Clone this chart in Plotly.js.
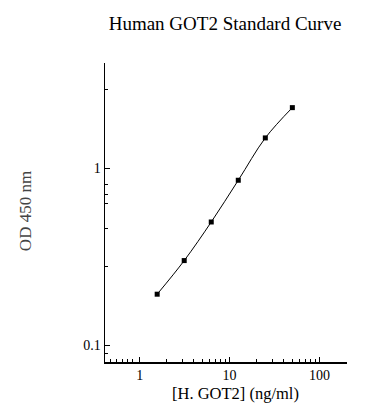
<!DOCTYPE html>
<html>
<head>
<meta charset="utf-8">
<script src="https://cdn.plot.ly/plotly-3.0.1.min.js"></script>
<style>html,body{margin:0;padding:0;background:#fff;}#chart{width:388px;height:420px;}</style>
</head>
<body>
<div id="chart"></div>
<script>
// Data
const concentration = [1.5625, 3.125, 6.25, 12.5, 25, 50];
const od450 = [0.195, 0.302, 0.499, 0.859, 1.49, 2.21];

// Tick values / labels
const xTickVals = [1, 10, 100, 202];
const xTickText = ['1', '10', '100', ''];
const xMinorVals = [0.418, 0.475, 0.55, 0.635, 0.73, 0.83, 2, 3, 4, 5, 6, 7, 8, 9, 20, 30, 40, 50, 60, 70, 80, 90];
const yTickVals = [0.1, 1];
const yTickText = ['0.1', '1'];
const yMinorVals = [0.0905, 0.281, 0.458, 0.634, 0.718, 0.815, 2.79];

const titleText = 'Human GOT2 Standard Curve';
const xTitleText = '[H. GOT2] (ng/ml)';
const yTitleText = 'OD 450 nm';

const serif = '"Liberation Serif", "Times New Roman", serif';

const trace = {
  x: concentration,
  y: od450,
  mode: 'lines+markers',
  type: 'scatter',
  line: {color: '#000', width: 1, shape: 'spline', smoothing: 1},
  marker: {symbol: 'square', size: 5, color: '#000'},
  hoverinfo: 'none'
};

const layout = {
  width: 388,
  height: 420,
  margin: {l: 105, r: 41, t: 63, b: 58},
  paper_bgcolor: '#fff',
  plot_bgcolor: '#fff',
  showlegend: false,
  font: {family: serif, color: '#000', size: 14},
  title: {
    text: titleText,
    font: {family: serif, size: 19, color: '#000'},
    x: 0.58, xanchor: 'center',
    y: 0.945, yanchor: 'middle'
  },
  xaxis: {
    type: 'log',
    range: [Math.log10(0.41), Math.log10(203)],
    tickmode: 'array',
    tickvals: xTickVals,
    ticktext: xTickText,
    ticks: 'inside',
    ticklen: 5,
    tickwidth: 1,
    tickcolor: '#000',
    minor: {tickmode: 'array', tickvals: xMinorVals, ticks: 'inside', ticklen: 3, tickwidth: 1, tickcolor: '#000', showgrid: false},
    showline: true,
    linecolor: '#000',
    linewidth: 1.5,
    showgrid: false,
    zeroline: false,
    tickfont: {family: serif, size: 14, color: '#000'},
    title: {text: ''}
  },
  yaxis: {
    type: 'log',
    range: [Math.log10(0.0807), Math.log10(3.95)],
    tickmode: 'array',
    tickvals: yTickVals,
    ticktext: yTickText,
    ticks: 'inside',
    ticklen: 5,
    tickwidth: 1,
    tickcolor: '#000',
    minor: {tickmode: 'array', tickvals: yMinorVals, ticks: 'inside', ticklen: 3, tickwidth: 1, tickcolor: '#000', showgrid: false},
    showline: true,
    linecolor: '#000',
    linewidth: 1.5,
    showgrid: false,
    zeroline: false,
    tickfont: {family: serif, size: 14, color: '#000'},
    title: {text: ''}
  },
  annotations: [
    {text: xTitleText, xref: 'paper', yref: 'paper', x: 0.54, y: -0.105, xanchor: 'center', yanchor: 'middle',
     showarrow: false, font: {family: serif, size: 16.5, color: '#000'}},
    {text: yTitleText, xref: 'paper', yref: 'paper', x: -0.33, y: 0.505, xanchor: 'center', yanchor: 'middle',
     textangle: -90, showarrow: false, font: {family: serif, size: 17, color: '#444'}}
  ]
};

Plotly.newPlot('chart', [trace], layout, {staticPlot: true, displayModeBar: false});
</script>
</body>
</html>
